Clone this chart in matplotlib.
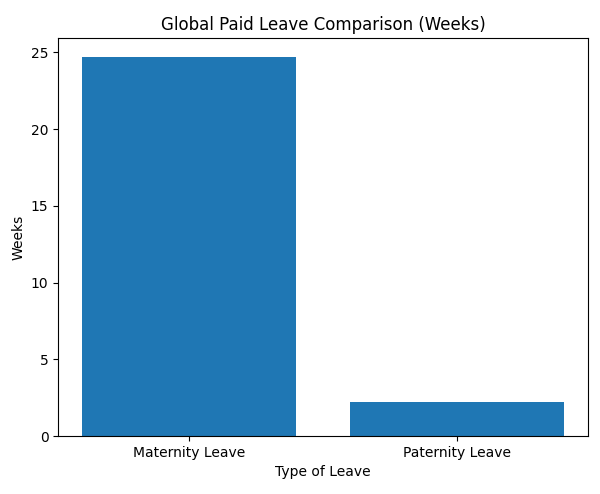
import matplotlib
matplotlib.use("Agg")
import matplotlib.pyplot as plt

categories = ["Maternity Leave", "Paternity Leave"]
weeks = [24.7, 2.2]

fig, ax = plt.subplots(figsize=(6, 4.94), dpi=100)
fig.subplots_adjust(left=0.097, right=0.98, top=0.923, bottom=0.117)
ax.bar(categories, weeks, color="#1f77b4")
ax.set_title("Global Paid Leave Comparison (Weeks)")
ax.set_xlabel("Type of Leave")
ax.set_ylabel("Weeks")
fig.savefig("out.png")
